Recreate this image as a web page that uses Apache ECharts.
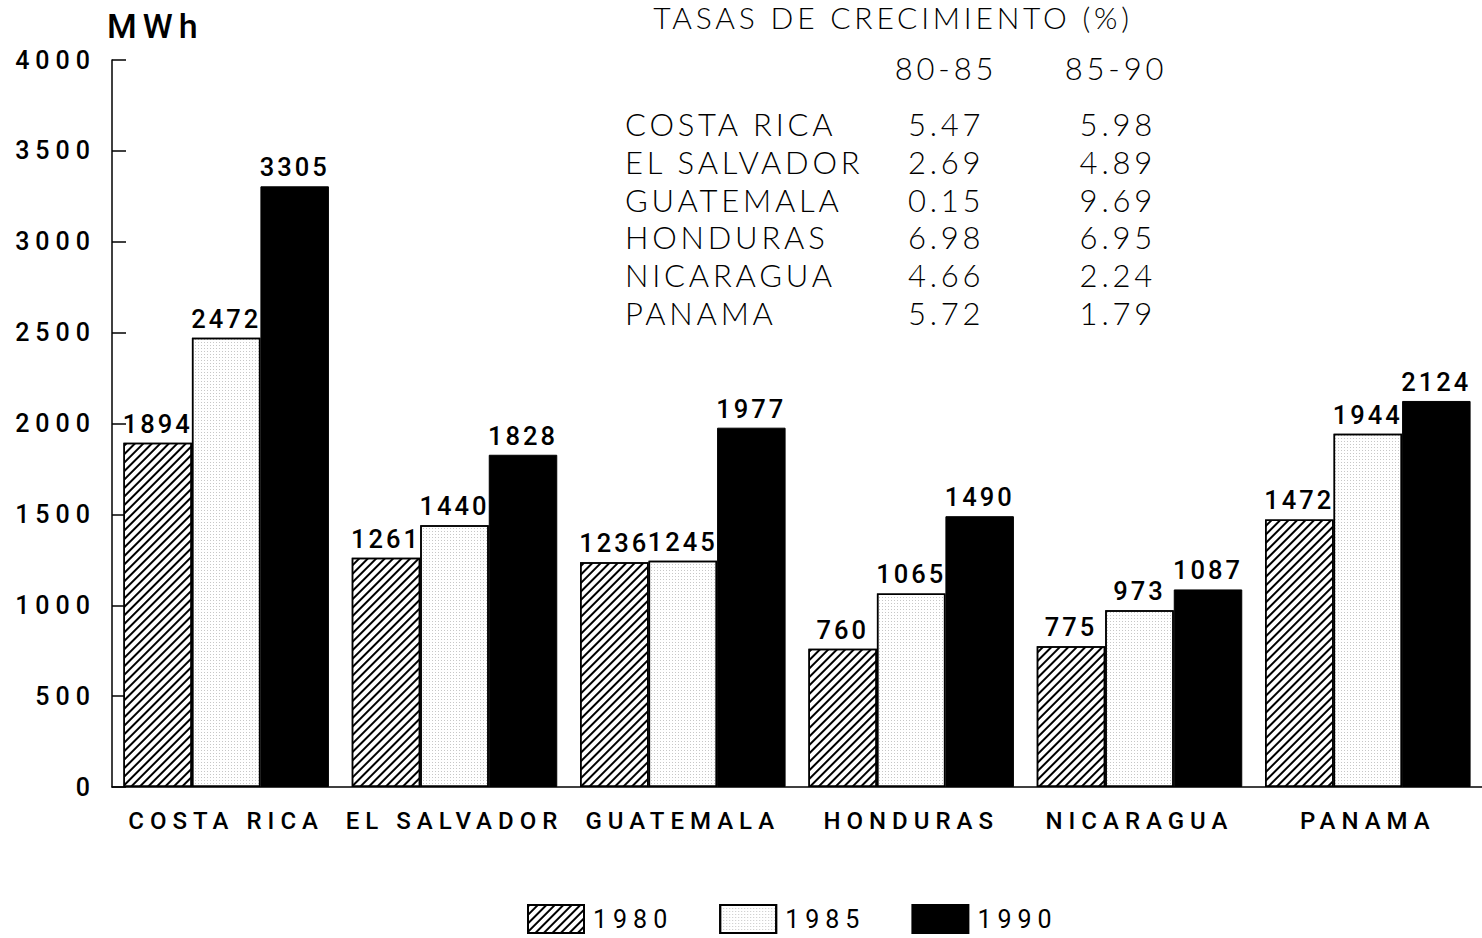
<!DOCTYPE html>
<html><head><meta charset="utf-8">
<script src="https://cdn.jsdelivr.net/npm/echarts@6/dist/echarts.min.js"></script>
<style>
html,body{margin:0;padding:0;background:#fff}
#c{width:1482px;height:938px}
#c svg text{letter-spacing:6px}
#c svg text[style*="Lato"], #c svg text[font-family*="Lato"]{letter-spacing:3.8px}
#c svg text[style*="sans-serif"], #c svg text[font-family*="sans-serif"]{letter-spacing:3px}
</style></head><body><div id="c"></div>
<script>
// ---- data ----
const categories = ['COSTA RICA', 'EL SALVADOR', 'GUATEMALA', 'HONDURAS', 'NICARAGUA', 'PANAMA'];
const seriesNames = ['1980', '1985', '1990'];
const values1980 = [1894, 1261, 1236, 760, 775, 1472];
const values1985 = [2472, 1440, 1245, 1065, 973, 1944];
const values1990 = [3305, 1828, 1977, 1490, 1087, 2124];
const yMin = 0, yMax = 4000, yStep = 500;
const yAxisTitle = 'MWh';
const tableTitle = 'TASAS DE CRECIMIENTO (%)';
const periodLabels = ['80-85', '85-90'];
const rate8085 = ['5.47', '2.69', '0.15', '6.98', '4.66', '5.72'];
const rate8590 = ['5.98', '4.89', '9.69', '6.95', '2.24', '1.79'];

// ---- styles ----
const FONT = 'Roboto';
const VFONT = 'Roboto, sans-serif';
const TFONT = 'Lato';
const chart = echarts.init(document.getElementById('c'), null, {renderer: 'svg'});

const labelCommon = {
  show: true, position: 'top', distance: 6,
  fontFamily: VFONT, fontSize: 25.5, fontWeight: 500, color: '#000'
};
const hatchDecal = {
  symbol: 'rect', symbolSize: 1, dashArrayX: [1, 0], dashArrayY: [1.5, 3.2],
  rotation: -Math.PI / 4, color: '#000'
};
const dotDecal = {
  symbol: 'rect', symbolSize: 1, dashArrayX: [1, 2], dashArrayY: [1, 2],
  color: 'rgba(0,0,0,0.22)'
};
const seriesStyles = [
  {color: '#fff', borderColor: '#000', borderWidth: 1.5, decal: hatchDecal},
  {color: '#fff', borderColor: '#000', borderWidth: 1.5, decal: dotDecal},
  {color: '#000', borderColor: '#000', borderWidth: 1}
];
const seriesData = [values1980, values1985, values1990];

// table graphic built from arrays
const tStyle = {fontFamily: TFONT, fontWeight: 300, fontSize: 31, fill: '#000', verticalAlign: 'middle'};
const tableX = {name: 625, c1: 908, c2: 1156};
const rowY0 = 124, rowStep = 37.8;
const graphics = [];
graphics.push({type: 'text', x: 893, y: 17, style: Object.assign({}, tStyle, {text: tableTitle, fontSize: 30, align: 'center'})});
graphics.push({type: 'text', x: 946, y: 68, style: Object.assign({}, tStyle, {text: periodLabels[0], align: 'center'})});
graphics.push({type: 'text', x: 1116, y: 68, style: Object.assign({}, tStyle, {text: periodLabels[1], align: 'center'})});
categories.forEach((c, i) => {
  const y = rowY0 + i * rowStep;
  graphics.push({type: 'text', x: tableX.name, y: y, style: Object.assign({}, tStyle, {text: c, align: 'left'})});
  graphics.push({type: 'text', x: tableX.c1, y: y, style: Object.assign({}, tStyle, {text: rate8085[i], align: 'left'})});
  graphics.push({type: 'text', x: tableX.c2, y: y, style: Object.assign({}, tStyle, {text: rate8590[i], align: 'right'})});
});

const option = {
  backgroundColor: '#fff',
  animation: false,
  title: {text: yAxisTitle, left: 102, top: 4, textStyle: {fontFamily: FONT, fontSize: 34, fontWeight: 500, color: '#000'}},
  legend: {
    left: 522, top: 899, itemWidth: 56, itemHeight: 28, itemGap: 70,
    icon: 'rect',
    textStyle: {fontFamily: FONT, fontSize: 25, color: '#000', padding: [0, 0, 0, 4]},
    data: seriesNames
  },
  grid: {left: 112, right: -8, top: 60, bottom: 151, containLabel: false},
  xAxis: {
    type: 'category', data: categories,
    axisLine: {lineStyle: {color: '#000', width: 1.5}},
    axisTick: {show: true, inside: true, length: 15, alignWithLabel: true, interval: 0, lineStyle: {color: '#000', width: 1.5}},
    axisLabel: {interval: 0, margin: 22, fontFamily: FONT, fontSize: 24, fontWeight: 500, color: '#000'}
  },
  yAxis: {
    type: 'value', min: yMin, max: yMax, interval: yStep,
    axisLine: {show: true, lineStyle: {color: '#000', width: 1.5}},
    axisTick: {show: true, inside: true, length: 14, lineStyle: {color: '#000', width: 1.5}},
    axisLabel: {margin: 16, fontFamily: FONT, fontSize: 25, fontWeight: 500, color: '#000', formatter: v => String(v)},
    splitLine: {show: false}
  },
  series: seriesNames.map((n, i) => ({
    name: n, type: 'bar', data: seriesData[i],
    barGap: '0%', barCategoryGap: '10%',
    itemStyle: seriesStyles[i],
    label: labelCommon
  })),
  graphic: graphics
};
chart.setOption(option);
</script></body></html>
